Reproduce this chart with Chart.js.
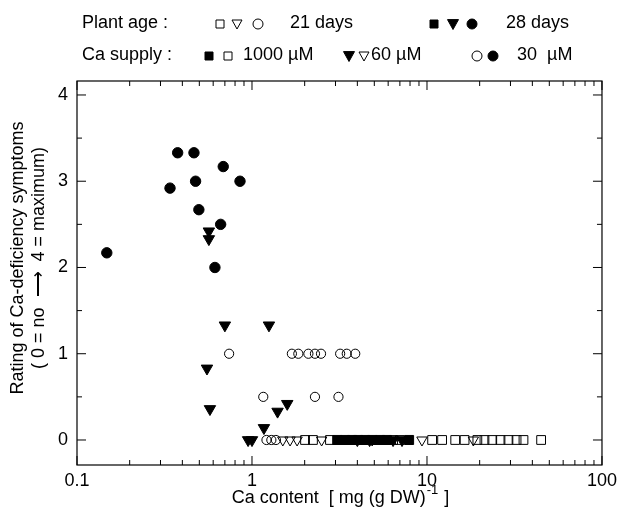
<!DOCTYPE html>
<html>
<head>
<meta charset="utf-8">
<script src="https://cdn.jsdelivr.net/npm/chart.js@4.4.0/dist/chart.umd.min.js"></script>
<style>
  body { margin: 0; background: #fff; }
  #wrap { position: relative; width: 622px; height: 517px; }
</style>
</head>
<body>
<div id="wrap"><canvas id="chart"></canvas></div>
<script>
// Values (x = Ca content, y = rating)
// 1000 uM, 21 days (open squares)
const sq21X = [2.01, 2.23, 2.79, 6.4, 7.0, 10.7, 12.2, 14.5, 16.4, 19.4, 21.3, 23.6, 26.3, 29.2, 32.5, 35.6, 44.9];
const sq21Y = [0, 0, 0, 0, 0, 0, 0, 0, 0, 0, 0, 0, 0, 0, 0, 0, 0];
// 1000 uM, 28 days (filled squares)
const sq28X = [3.07, 3.40, 3.73, 4.04, 4.43, 4.86, 5.40, 5.9, 7.9];
const sq28Y = [0, 0, 0, 0, 0, 0, 0, 0, 0];
// 60 uM, 21 days (open triangles)
const tri21X = [1.50, 1.65, 1.81, 2.50, 4.86, 9.36, 18.4];
const tri21Y = [0, 0, 0, 0, 0, 0, 0];
// 60 uM, 28 days (filled triangles)
const tri28X = [0.567, 0.567, 0.70, 1.25, 0.553, 0.575, 1.40, 1.59, 1.17, 0.95, 1.0, 4.0, 4.7, 6.4, 7.2];
const tri28Y = [2.42, 2.33, 1.33, 1.33, 0.83, 0.36, 0.33, 0.42, 0.14, 0, 0, 0, 0, 0, 0];
// 30 uM, 21 days (open circles)
const cir21X = [0.74, 1.69, 1.84, 2.10, 2.29, 2.48, 3.19, 3.48, 3.89, 1.16, 2.29, 3.12, 1.21, 1.29, 1.37];
const cir21Y = [1, 1, 1, 1, 1, 1, 1, 1, 1, 0.5, 0.5, 0.5, 0, 0, 0];
// 30 uM, 28 days (filled circles)
const cir28X = [0.148, 0.34, 0.376, 0.466, 0.476, 0.497, 0.614, 0.662, 0.685, 0.854];
const cir28Y = [2.17, 2.92, 3.33, 3.33, 3.0, 2.67, 2.0, 2.5, 3.17, 3.0];

// axis ticks
const xTickLabels = [0.1, 1, 10, 100];
const xMinorTicks = [0.2, 0.3, 0.4, 0.5, 0.6, 0.7, 0.8, 0.9, 2, 3, 4, 5, 6, 7, 8, 9, 20, 30, 40, 50, 60, 70, 80, 90];
const yTickLabels = [0, 1, 2, 3, 4];
const yMinorTicks = [0.5, 1.5, 2.5, 3.5];

const FONT = '"Liberation Sans", Arial, Helvetica, sans-serif';

function pairs(xs, ys) {
    return xs.map((v, i) => ({ x: v, y: ys[i] }));
}

function series(xs, ys, style, filled, r, rot) {
    return {
        data: pairs(xs, ys),
        pointStyle: style,
        pointRadius: r,
        pointRotation: rot || 0,
        pointBorderWidth: 1,
        borderColor: '#000',
        backgroundColor: filled ? '#000' : 'rgba(0,0,0,0)',
        pointBorderColor: '#000',
        pointBackgroundColor: filled ? '#000' : 'rgba(0,0,0,0)',
        showLine: false
    };
}

// small marker for the legend rows
function mark(ctx, shape, filled, x, y, s) {
    ctx.beginPath();
    if (shape === 'sq') {
        ctx.rect(x - s / 2, y - s / 2, s, s);
    } else if (shape === 'tri') {
        ctx.moveTo(x - s / 2, y - s * 0.4);
        ctx.lineTo(x + s / 2, y - s * 0.4);
        ctx.lineTo(x, y + s * 0.5);
        ctx.closePath();
    } else {
        ctx.arc(x, y, s / 2, 0, Math.PI * 2);
    }
    if (filled) { ctx.fillStyle = '#000'; ctx.fill(); }
    ctx.lineWidth = 1;
    ctx.strokeStyle = '#000';
    ctx.stroke();
}

const decorPlugin = {
    id: 'decor',
    afterDraw(chart) {
        const { ctx, chartArea: a, scales } = chart;
        const x = scales.x, y = scales.y;
        ctx.save();
        ctx.strokeStyle = '#000';
        ctx.lineWidth = 1.2;
        ctx.strokeRect(a.left, a.top, a.right - a.left, a.bottom - a.top);

        function seg(x1, y1, x2, y2) {
            ctx.beginPath(); ctx.moveTo(x1, y1); ctx.lineTo(x2, y2); ctx.stroke();
        }
        ctx.lineWidth = 1;
        xTickLabels.forEach(v => {
            const p = x.getPixelForValue(v);
            seg(p, a.bottom, p, a.bottom - 9);
            seg(p, a.top, p, a.top + 9);
        });
        xMinorTicks.forEach(v => {
            const p = x.getPixelForValue(v);
            seg(p, a.bottom, p, a.bottom - 5);
            seg(p, a.top, p, a.top + 5);
        });
        yTickLabels.forEach(v => {
            const p = y.getPixelForValue(v);
            seg(a.left, p, a.left + 9, p);
            seg(a.right, p, a.right - 9, p);
        });
        yMinorTicks.forEach(v => {
            const p = y.getPixelForValue(v);
            seg(a.left, p, a.left + 5, p);
            seg(a.right, p, a.right - 5, p);
        });

        // legend rows
        ctx.fillStyle = '#000';
        ctx.font = '18px ' + FONT;
        ctx.textBaseline = 'middle';
        ctx.textAlign = 'left';
        ctx.fillText('Plant age :', 82, 23);
        ctx.fillText('21 days', 290, 23);
        ctx.fillText('28 days', 506, 23);
        ctx.fillText('Ca supply :', 82, 55);
        ctx.fillText('1000 \u00b5M', 243, 55);
        ctx.fillText('60 \u00b5M', 371, 55);
        ctx.fillText('30  \u00b5M', 517, 55);
        mark(ctx, 'sq', false, 220, 24, 8);
        mark(ctx, 'tri', false, 237, 24, 10);
        mark(ctx, 'cir', false, 258, 24, 10);
        mark(ctx, 'sq', true, 434, 24, 8);
        mark(ctx, 'tri', true, 453, 24, 11);
        mark(ctx, 'cir', true, 472, 24, 10);
        mark(ctx, 'sq', true, 209, 56, 8);
        mark(ctx, 'sq', false, 228, 56, 8);
        mark(ctx, 'tri', true, 349, 56, 11);
        mark(ctx, 'tri', false, 364, 56, 10);
        mark(ctx, 'cir', false, 477, 56, 10);
        mark(ctx, 'cir', true, 493, 56, 10);

        // y title, two rotated lines
        ctx.save();
        ctx.translate(18, 258);
        ctx.rotate(-Math.PI / 2);
        ctx.textAlign = 'center';
        ctx.fillText('Rating of Ca-deficiency symptoms', 0, 0);
        ctx.fillText('( 0 = no  \u27f6  4 = maximum)', 0, 21);
        ctx.restore();

        // x title with superscript
        const t1 = 'Ca content  [ mg (g DW)', sup = '-1', t2 = ' ]';
        ctx.font = '18px ' + FONT;
        const w1 = ctx.measureText(t1).width, w3 = ctx.measureText(t2).width;
        ctx.font = '13px ' + FONT;
        const w2 = ctx.measureText(sup).width;
        let sx = (a.left + a.right) / 2 - (w1 + w2 + w3) / 2;
        const ty = 498;
        ctx.font = '18px ' + FONT;
        ctx.fillText(t1, sx, ty);
        ctx.font = '13px ' + FONT;
        ctx.fillText(sup, sx + w1 + 1, ty - 8);
        ctx.font = '18px ' + FONT;
        ctx.fillText(t2, sx + w1 + w2 + 2, ty);
        ctx.restore();
    }
};

new Chart(document.getElementById('chart'), {
    type: 'scatter',
    data: {
        datasets: [
            series(sq21X, sq21Y, 'rect', false, 6.2),
            series(tri21X, tri21Y, 'triangle', false, 6, 180),
            series(cir21X, cir21Y, 'circle', false, 4.6),
            series(sq28X, sq28Y, 'rect', true, 6.4),
            series(tri28X, tri28Y, 'triangle', true, 6.6, 180),
            series(cir28X, cir28Y, 'circle', true, 5.2)
        ]
    },
    options: {
        responsive: true,
        maintainAspectRatio: false,
        animation: false,
        layout: { padding: { top: 81, right: 20, left: 0, bottom: 0 } },
        plugins: { legend: { display: false }, tooltip: { enabled: false } },
        scales: {
            x: {
                type: 'logarithmic',
                min: 0.1,
                max: 100,
                afterBuildTicks: s => { s.ticks = xTickLabels.map(v => ({ value: v })); },
                afterFit: s => { s.height = 52; },
                grid: { display: false, drawTicks: false },
                border: { display: false },
                ticks: {
                    autoSkip: false,
                    maxRotation: 0,
                    padding: 5,
                    color: '#000',
                    font: { family: FONT, size: 18 },
                    callback: v => String(v)
                }
            },
            y: {
                min: -0.29,
                max: 4.162,
                afterBuildTicks: s => { s.ticks = yTickLabels.map(v => ({ value: v })); },
                afterFit: s => { s.width = 77; },
                grid: { display: false, drawTicks: false },
                border: { display: false },
                ticks: {
                    padding: 9,
                    color: '#000',
                    font: { family: FONT, size: 18 },
                    callback: v => String(v)
                }
            }
        }
    },
    plugins: [decorPlugin]
});
</script>
</body>
</html>
